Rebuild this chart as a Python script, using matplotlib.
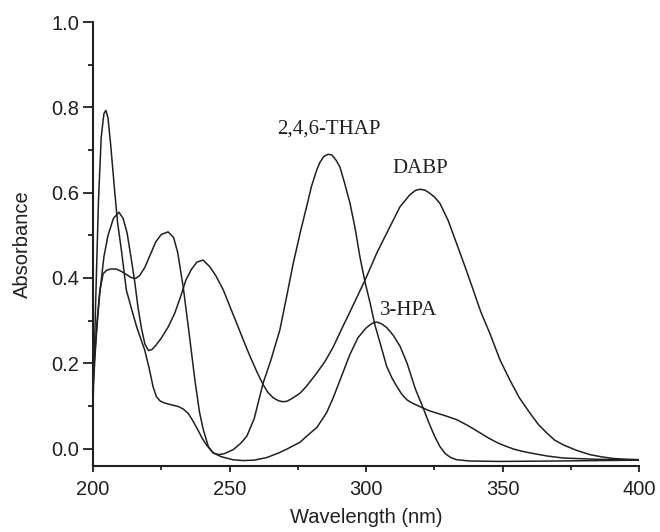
import matplotlib
matplotlib.use("Agg")
import matplotlib.pyplot as plt
from matplotlib.ticker import MultipleLocator

# ---- data ----
hpa_x = [200, 201, 202, 203, 204, 204.7, 205.5, 206.5, 207.9, 209, 210.4, 212.2, 214, 216, 218, 218.9,
         220.5, 222, 223.2, 224.5, 226.2, 228.5, 231.1, 233, 234.8, 236.5, 238.4, 240, 241.5, 244, 247,
         251.2, 255, 259, 263.6, 268, 271, 275.8, 278.2, 282, 285.5, 288, 291, 294, 297, 300, 302,
         303.8, 305.5, 307.5, 310, 312.4, 315, 318, 320.9, 323, 325, 327, 329, 331, 333.1, 338,
         349, 370, 400]
hpa_y = [0.10, 0.35, 0.58, 0.73, 0.785, 0.793, 0.775, 0.71, 0.606, 0.53, 0.465, 0.372, 0.33, 0.285,
         0.248, 0.232, 0.19, 0.145, 0.122, 0.112, 0.107, 0.103, 0.099, 0.093, 0.083, 0.066, 0.044, 0.024,
         0.009, -0.01, -0.019, -0.026, -0.028, -0.027, -0.021, -0.01, -0.001, 0.015, 0.029, 0.05,
         0.084, 0.12, 0.17, 0.22, 0.26, 0.283, 0.293, 0.297, 0.293, 0.284, 0.265, 0.24, 0.2, 0.14,
         0.095, 0.06, 0.03, 0.005, -0.012, -0.021, -0.026, -0.029, -0.03, -0.029, -0.027]

thap_x = [200, 200.6, 201.5, 202.5, 203.7, 205, 206.5, 208.5, 210.5, 212.5, 214, 215.6, 217, 219, 221,
          223, 225, 227.5, 229.5, 231, 233, 235, 237.3, 239, 240.4, 242.2, 244, 245.9, 248, 251.4,
          254, 256.3, 259, 262.3, 265, 268.4, 271, 273.3, 276, 278.2, 280, 281.9, 283, 284.5, 286.1,
          287.5, 289, 290.4, 292, 294.1, 296, 297.7, 299.6, 301.5, 303.2, 305, 307.5, 309.5, 311.2,
          313, 314.8, 316.5, 318.5, 320.9, 323, 326, 329, 333.1, 337, 341.7, 344.5, 348, 351, 354,
          357, 360, 366, 372.1, 384.4, 400]
thap_y = [0.14, 0.20, 0.30, 0.37, 0.41, 0.418, 0.421, 0.421, 0.415, 0.407, 0.401, 0.399, 0.405, 0.425,
          0.455, 0.485, 0.502, 0.508, 0.495, 0.46, 0.38, 0.28, 0.161, 0.085, 0.044, 0.005, -0.01,
          -0.014, -0.012, -0.002, 0.012, 0.029, 0.07, 0.154, 0.205, 0.278, 0.36, 0.434, 0.51, 0.567,
          0.615, 0.653, 0.67, 0.685, 0.69, 0.688, 0.676, 0.66, 0.625, 0.575, 0.515, 0.45, 0.39, 0.34,
          0.29, 0.25, 0.193, 0.165, 0.146, 0.128, 0.115, 0.108, 0.102, 0.095, 0.089, 0.083, 0.077,
          0.068, 0.055, 0.037, 0.026, 0.014, 0.006, -0.001, -0.006, -0.01, -0.017, -0.022, -0.025,
          -0.026]

dabp_x = [200, 201, 202.4, 204, 205.5, 207.5, 209.5, 211, 212.5, 214, 215.3, 216.5, 217.8, 219, 220.3,
          221.5, 223, 225, 227.5, 229.9, 232, 234, 236, 238, 240.3, 242.8, 245, 247.7, 250, 252.6,
          255, 257.5, 260, 262.3, 264, 266, 268, 269.5, 271, 273, 275.8, 278, 281.9, 285, 288, 291,
          294.1, 299.6, 304, 308.7, 312.4, 316, 318, 319.7, 321.5, 323, 325, 327, 330, 333.1, 336,
          339.2, 342, 345.3, 349, 352.6, 356, 360, 363, 366.1, 369, 372.1, 377, 381.9, 386, 390.4,
          395, 400]
dabp_y = [0.17, 0.25, 0.36, 0.45, 0.50, 0.54, 0.554, 0.54, 0.505, 0.445, 0.39, 0.33, 0.28, 0.245, 0.23,
          0.232, 0.242, 0.259, 0.285, 0.317, 0.355, 0.395, 0.42, 0.437, 0.442, 0.426, 0.405, 0.372,
          0.335, 0.294, 0.255, 0.216, 0.18, 0.15, 0.132, 0.119, 0.112, 0.11, 0.111, 0.118, 0.13,
          0.145, 0.177, 0.205, 0.239, 0.28, 0.321, 0.395, 0.46, 0.52, 0.567, 0.595, 0.605, 0.608,
          0.606, 0.60, 0.59, 0.575, 0.535, 0.481, 0.43, 0.372, 0.32, 0.27, 0.208, 0.161, 0.12, 0.083,
          0.057, 0.037, 0.02, 0.009, -0.004, -0.014, -0.019, -0.023, -0.025, -0.026]

labels = ["2,4,6-THAP", "DABP", "3-HPA"]
label_x = [286.5, 319.7, 315.7]
label_y = [0.7385, 0.645, 0.3135]

x_ticks = [200, 250, 300, 350, 400]
y_ticks = [0.0, 0.2, 0.4, 0.6, 0.8, 1.0]

# ---- drawing ----
ink = "#231f20"
fig = plt.figure(figsize=(6.6, 5.32), dpi=100)
ax = fig.add_axes([93/660, 1 - 465.7/532, (639.3 - 93)/660, (465.7 - 22)/532])

for xs, ys in [(hpa_x, hpa_y), (thap_x, thap_y), (dabp_x, dabp_y)]:
    ax.plot(xs, ys, color=ink, lw=1.1, solid_joinstyle="round")

for t, lx, ly in zip(labels, label_x, label_y):
    ax.text(lx, ly, t, ha="center", va="baseline", fontsize=15,
            family="Liberation Serif", color=ink)

ax.set_xlim(200, 400)
ax.set_ylim(-0.04, 1.0)
ax.set_xticks(x_ticks)
ax.set_yticks(y_ticks)
ax.set_xticklabels([str(v) for v in x_ticks])
ax.set_yticklabels([f"{v:.1f}" for v in y_ticks])
ax.xaxis.set_minor_locator(MultipleLocator(25))
ax.yaxis.set_minor_locator(MultipleLocator(0.1))

for s in ["top", "right"]:
    ax.spines[s].set_visible(False)
for s in ["left", "bottom"]:
    ax.spines[s].set_linewidth(1.5)
    ax.spines[s].set_color(ink)

ax.tick_params(axis="x", which="major", length=4, width=1.3, color=ink, pad=6)
ax.tick_params(axis="x", which="minor", length=2.8, width=1.3, color=ink)
ax.tick_params(axis="y", which="major", length=7, width=1.3, color=ink, pad=3)
ax.tick_params(axis="y", which="minor", length=3.6, width=1.3, color=ink)
for lab in ax.get_xticklabels() + ax.get_yticklabels():
    lab.set_fontsize(14.5)
    lab.set_family("Liberation Sans")
    lab.set_color(ink)

ax.set_xlabel("Wavelength (nm)", fontsize=14.5, family="Liberation Sans", color=ink, labelpad=7)
ax.set_ylabel("Absorbance", fontsize=14.5, family="Liberation Sans", color=ink, labelpad=14)

fig.savefig("out.png", dpi=100)
